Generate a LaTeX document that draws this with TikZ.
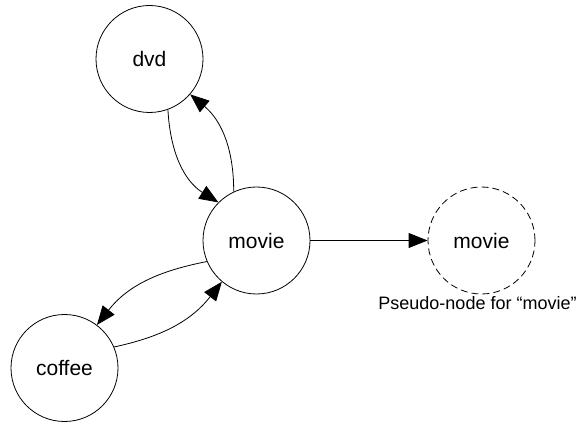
\documentclass[tikz,border=0pt]{standalone}
\usepackage{fontspec}
\setmainfont{Liberation Sans}
\usetikzlibrary{arrows.meta}
\begin{document}
\begin{tikzpicture}[x=1pt,y=1pt,
  state/.style={draw,circle,line width=0.8pt,minimum size=107pt,inner sep=0pt,
    font=\fontsize{21}{25}\selectfont},
  pseudo/.style={state,dash pattern=on 7pt off 4pt},
  link/.style={line width=0.8pt,-{Triangle[length=19pt,width=15pt]}},
  caption/.style={font=\fontsize{18}{22}\selectfont,inner sep=0pt,anchor=base}]
  \useasboundingbox (0,0) rectangle (587,421);

  % graph nodes
  \node[state] (dvd) at (149.5,362) {dvd};
  \node[state] (movie) at (256.5,180.5) {movie};
  \node[state] (coffee) at (64.5,53) {coffee};
  \node[pseudo] (pmovie) at (481.5,180.5) {movie};
  \node[caption] (pcap) at (477.5,111) {Pseudo-node for “movie”};

  % edges between the nodes
  \draw[link] (dvd.-70) to[out=-87,in=148] (movie.135);
  \draw[link] (movie.115) to[out=90,in=-40] (dvd.-41);
  \draw[link] (movie.203) to[out=191,in=52] (coffee.53);
  \draw[link] (coffee.23) to[out=12,in=232] (movie.230);
  \draw[link] (movie.east) -- (pmovie.west);
\end{tikzpicture}
\end{document}
